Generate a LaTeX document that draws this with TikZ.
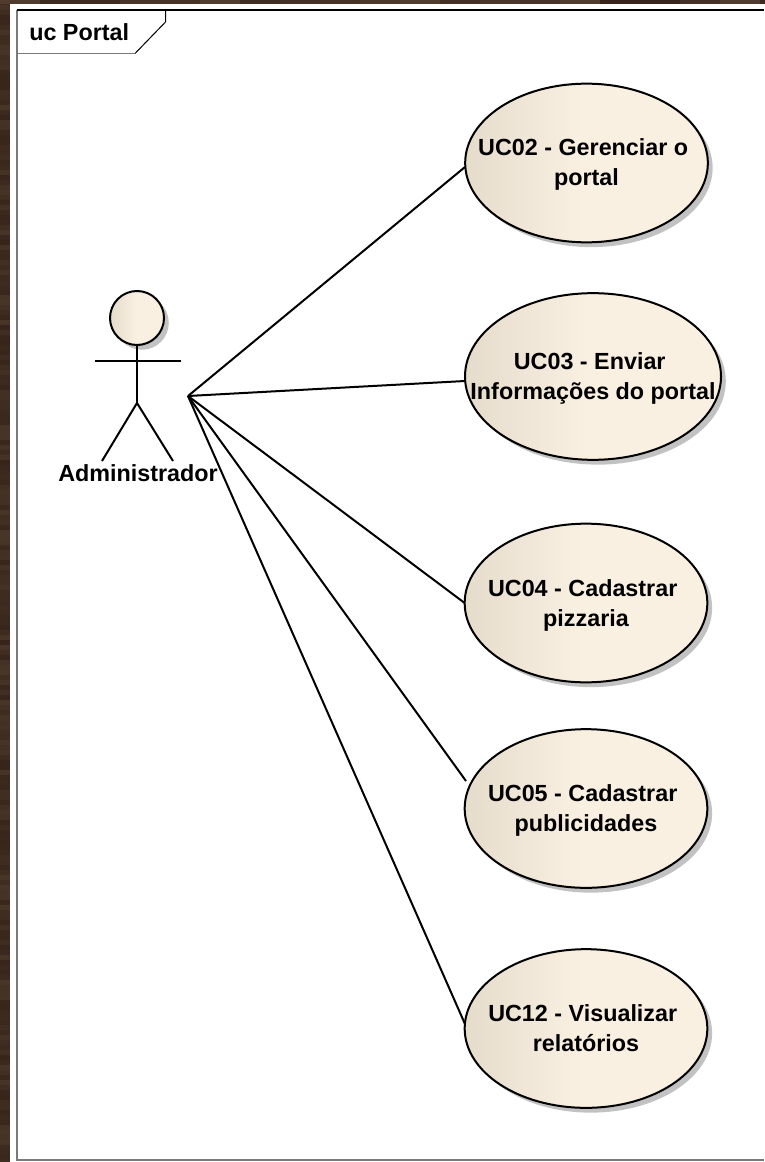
\documentclass[tikz,border=0pt]{standalone}
\usepackage{fontspec}
\usepackage{xcolor}
\usetikzlibrary{shapes,shadows}
\setmainfont{Liberation Sans}
\definecolor{woodbase}{HTML}{37241A}
\definecolor{woodlight}{HTML}{6B5443}
\definecolor{framegray}{HTML}{7A7A7A}
\definecolor{shadowgray}{HTML}{C2C2C2}
\definecolor{ucleft}{HTML}{E6DCCC}
\definecolor{ucright}{HTML}{F9F0E2}
\pgfdeclarehorizontalshading{ucbeige}{100bp}{color(0bp)=(ucleft); color(25bp)=(ucleft); color(49bp)=(ucright); color(100bp)=(ucright)}
\newcommand{\ucbreak}{\kern4.9pt\\}

\begin{document}
\begin{tikzpicture}[x=0.75pt,y=-0.75pt]
    \tikzstyle{usecase} = [ellipse, draw=black, line width=1.5pt, shading=ucbeige,
        minimum width=182pt, minimum height=119pt, inner sep=-40pt, outer sep=0pt,
        align=center, font=\fontsize{17.5}{22.5}\selectfont\bfseries,
        execute at begin node={\rule[-5pt]{0pt}{44.5pt}},
        drop shadow={shadow xshift=3.6pt, shadow yshift=-3.6pt, fill=shadowgray, opacity=1}]
    \tikzstyle{assoc} = [line width=1.5pt, black]
    \tikzstyle{limb} = [line width=1.5pt, black]
    \useasboundingbox (0,0) rectangle (764,1162);

    % wooden backdrop
    \fill[woodbase] (0,0) rectangle (764,1162);
    \pgfmathsetseed{7}
    \foreach \row in {0,5,...,1160} {
        \pgfmathsetmacro{\woodmix}{int(random(0,35))}
        \fill[woodlight!\woodmix!woodbase] (0,\row) rectangle (10,\row+5);
    }
    \foreach \col in {0,40,...,760} {
        \pgfmathsetmacro{\woodmix}{int(random(0,60))}
        \fill[woodlight!\woodmix!woodbase] (\col,0) rectangle (\col+40,4);
    }
    \fill[white] (10,4) rectangle (764,1162);

    % frame and tab
    \draw[framegray, line width=1.5pt] (17,10) -- (17,1160) -- (764,1160);
    \draw[black, line width=1.5pt] (17,10) -- (764,10);
    \draw[black, line width=0.75pt] (165.5,10) -- (165.5,22) -- (135,53.5);
    \draw[framegray, line width=1.2pt] (135,53.5) -- (17,53.5);
    \node[anchor=west, inner sep=0pt, font=\fontsize{17.5}{22.5}\selectfont\bfseries] (tablabel) at (29,32) {uc Portal};

    % use cases
    \node[usecase] (uc02) at (586.5,163) {UC02 - Gerenciar o\ucbreak portal};
    \node[usecase, minimum width=192pt, minimum height=125pt] (uc03) at (593,376.5) {UC03 - Enviar\ucbreak Informações do portal};
    \node[usecase] (uc04) at (586,603) {UC04 - Cadastrar\ucbreak pizzaria};
    \node[usecase] (uc05) at (586,808.5) {UC05 - Cadastrar\ucbreak publicidades};
    \node[usecase] (uc12) at (586,1028.5) {UC12 - Visualizar\ucbreak relatórios};

    % actor
    \node[circle, draw=black, line width=1.5pt, shading=ucbeige, minimum size=40.5pt, inner sep=0pt, outer sep=0pt,
        drop shadow={shadow xshift=3.6pt, shadow yshift=-3.6pt, fill=shadowgray, opacity=1}] (actorhead) at (137,318) {};
    \coordinate (armleft) at (95,361);
    \coordinate (armright) at (181,361);
    \coordinate (hip) at (137,403);
    \coordinate (footleft) at (102,461);
    \coordinate (footright) at (173,461);
    \draw[limb] (actorhead.south) -- (hip);
    \draw[limb] (armleft) -- (armright);
    \draw[limb] (footleft) -- (hip) -- (footright);
    \node[inner sep=0pt, font=\fontsize{17.5}{22.5}\selectfont\bfseries] (actorlabel) at (138,473) {Administrador};

    % associations
    \coordinate (admin) at (188,396);
    \coordinate (end02) at (465,167);
    \coordinate (end03) at (465,381);
    \coordinate (end05) at (466,781);
    \coordinate (end12) at (465,1024);
    \draw[assoc] (admin) -- (end02);
    \draw[assoc] (admin) -- (end03);
    \draw[assoc] (admin) -- (uc04.west);
    \draw[assoc] (admin) -- (end05);
    \draw[assoc] (admin) -- (end12);
\end{tikzpicture}
\end{document}
